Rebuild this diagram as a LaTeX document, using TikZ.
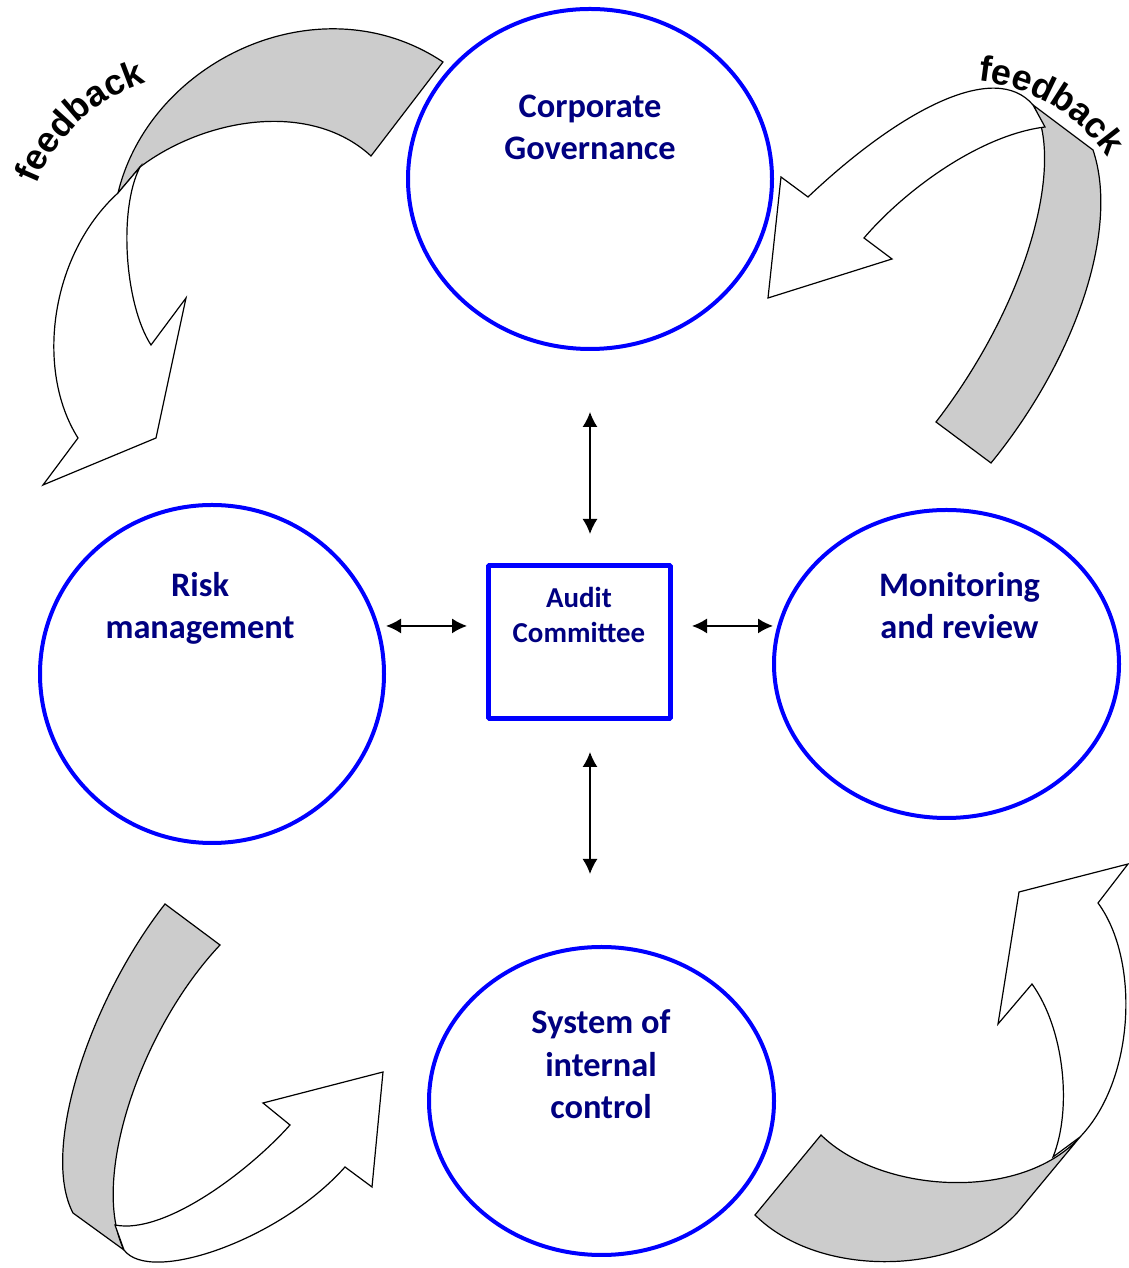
\documentclass[tikz,border=0pt]{standalone}
\usepackage{fontspec}
\usetikzlibrary{shapes.geometric,arrows.meta,decorations.text}
\newfontfamily\carlito{Carlito}
\newfontfamily\arialish{Liberation Sans}
\definecolor{ringblue}{RGB}{0,0,255}
\definecolor{labelnavy}{RGB}{0,0,128}
\definecolor{backgray}{RGB}{204,204,204}
\newcommand{\bigcaption}{\carlito\bfseries\fontsize{34.5}{43}\selectfont}
\newcommand{\boxcaption}{\carlito\bfseries\fontsize{29}{36}\selectfont}
\newcommand{\feedbackfont}{\arialish\bfseries\fontsize{36}{36}\selectfont}
\begin{document}
\begin{tikzpicture}[>={Latex[length=15bp,width=15bp]},line join=bevel,
  stage/.style={ellipse,draw=ringblue,line width=4bp,inner sep=0pt,outer sep=0pt},
  panel/.style={rectangle,draw=ringblue,line width=5bp,inner sep=0pt,outer sep=0pt},
  caption/.style={text=labelnavy,align=center,anchor=base},
  link/.style={black,<->,line width=1.5bp},
  back/.style={draw=black,line width=1.2bp,fill=backgray,line join=miter},
  front/.style={draw=black,line width=1.2bp,fill=white,line join=miter},
  feedback/.style={decorate,decoration={text along path,text align=center,text={|\feedbackfont|feedback}}},
]
\useasboundingbox (0bp,0bp) rectangle (1129bp,1268bp);
%%
\node (governance) at (590bp,1089bp) [stage,minimum width=364bp,minimum height=340bp] {};
  \node (risk) at (212bp,594bp) [stage,minimum width=344bp,minimum height=338bp] {};
  \node (monitoring) at (946.5bp,604bp) [stage,minimum width=345bp,minimum height=308bp] {};
  \node (control) at (601.5bp,167bp) [stage,minimum width=345bp,minimum height=308bp] {};
  \node (audit) at (579.5bp,626bp) [panel,minimum width=182bp,minimum height=153bp] {};
  \node (governance-text) at (590bp,1108bp) [caption,font=\bigcaption] {Corporate\\Governance};
  \node (risk-text) at (200bp,629bp) [caption,font=\bigcaption] {Risk\\management};
  \node (monitoring-text) at (959.5bp,629bp) [caption,font=\bigcaption] {Monitoring\\and review};
  \node (control-text) at (601bp,149bp) [caption,font=\bigcaption] {System of\\internal\\control};
  \node (audit-text) at (579bp,625bp) [caption,font=\boxcaption] {Audit\\Committee};
  \draw [link,shorten <=63bp,shorten >=31.5bp] (governance.south) -- (governance.south |- audit.north);
  \draw [link,shorten <=33.5bp,shorten >=73bp] (governance.south |- audit.south) -- (governance.south |- control.north);
  \draw [link,shorten <=2bp,shorten >=21.5bp] (audit.170 -| risk.east) -- (audit.170);
  \draw [link,shorten <=21.5bp,shorten >=1bp] (audit.10) -- (audit.10 -| monitoring.west);
%% feedback ribbons
  \draw [back] (443bp,1206bp) ..controls (320bp,1288bp) and (150bp,1208bp)  .. (118bp,1075bp) -- (140bp,1101bp) ..controls (205bp,1150bp) and (310bp,1168bp)  .. (371bp,1112bp) -- cycle;
  \draw [front] (118bp,1075bp) ..controls (50bp,1013bp) and (35bp,898bp)  .. (78bp,830bp) -- (43bp,783bp) -- (156bp,830bp) -- (186bp,970bp) -- (151bp,923bp) ..controls (125bp,963bp) and (118bp,1058bp)  .. (140bp,1101bp) -- cycle;
  \draw [back] (936bp,846bp) ..controls (1030bp,968bp) and (1065bp,1108bp)  .. (1033bp,1163bp) -- (1093bp,1118bp) ..controls (1120bp,1038bp) and (1075bp,908bp)  .. (991bp,805bp) -- cycle;
  \draw [front] (1033bp,1163bp) ..controls (995bp,1208bp) and (900bp,1158bp)  .. (808bp,1071bp) -- (781bp,1091bp) -- (768bp,970bp) -- (892bp,1009bp) -- (864bp,1030bp) ..controls (905bp,1078bp) and (980bp,1133bp)  .. (1045bp,1141bp) -- cycle;
  \draw [back] (165bp,364bp) ..controls (90bp,268bp) and (40bp,118bp)  .. (73bp,55bp) -- (124bp,18bp) ..controls (90bp,88bp) and (140bp,238bp)  .. (220bp,323bp) -- cycle;
  \draw [front] (124bp,18bp) ..controls (150bp,-17bp) and (280bp,28bp)  .. (345bp,101bp) -- (372bp,81bp) -- (383bp,196bp) -- (263bp,165bp) -- (290bp,143bp) ..controls (250bp,98bp) and (165bp,33bp)  .. (115bp,43bp) -- cycle;
  \draw [back] (821bp,133bp) ..controls (880bp,75bp) and (1020bp,65bp)  .. (1080bp,131bp) -- (1017bp,55bp) ..controls (960bp,-7bp) and (820bp,-12bp)  .. (755bp,53bp) -- cycle;
  \draw [front] (1080bp,131bp) ..controls (1135bp,188bp) and (1140bp,308bp)  .. (1098bp,365bp) -- (1128bp,404bp) -- (1019bp,376bp) -- (998bp,244bp) -- (1032bp,284bp) ..controls (1065bp,238bp) and (1072bp,158bp)  .. (1053bp,111bp) -- cycle;
  \path [feedback] (200bp,1018bp) ++(160:176bp) arc [start angle=160,end angle=106,radius=176bp];
  \path [feedback] (960bp,1008bp) ++(86:180bp) arc [start angle=86,end angle=33,radius=180bp];
%
\end{tikzpicture}
\end{document}
